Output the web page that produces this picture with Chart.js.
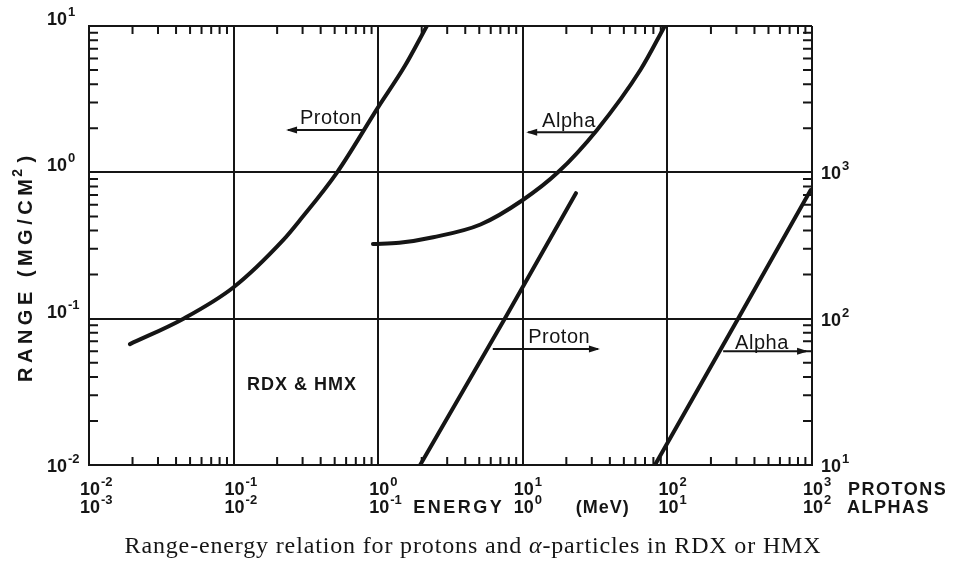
<!DOCTYPE html>
<html>
<head>
<meta charset="utf-8">
<script src="https://cdn.jsdelivr.net/npm/chart.js@4.4.1/dist/chart.umd.min.js"></script>
<style>
  html, body { margin: 0; padding: 0; background: #fff; }
  #wrap { width: 958px; height: 564px; }
</style>
</head>
<body>
<div id="wrap"><canvas id="rangeChart" width="958" height="564"></canvas></div>
<script>
// decade ticks (MeV for the two energy rows, mg/cm2 for the two range axes)
const protonTicks = [0.01, 0.1, 1, 10, 100, 1000];
const alphaTicks = [0.001, 0.01, 0.1, 1, 10, 100];
const rangeTicks = [0.01, 0.1, 1, 10];
const rightRangeTicks = [10, 100, 1000, 10000];

// proton curve, read on the left range axis
const protonLowEnergy = [0.0192, 0.045, 0.1, 0.22, 0.288, 0.52, 1.0, 1.52, 2.17];
const protonLowRange = [0.067, 0.1, 0.164, 0.344, 0.472, 1.0, 2.79, 5.28, 10];

// alpha curve, read on the left range axis (alpha energies)
const alphaLowEnergy = [0.092, 0.14, 0.24, 0.51, 1.0, 1.75, 3.26, 6.5, 9.6];
const alphaLowRange = [0.324, 0.33, 0.36, 0.44, 0.647, 1.0, 1.95, 5.0, 10];

// proton curve, read on the right range axis
const protonHighEnergy = [1.95, 7.5, 23.3];
const protonHighRange = [10, 100, 720];

// alpha curve, read on the right range axis (alpha energies)
const alphaHighEnergy = [8.2, 30.8, 98];
const alphaHighRange = [10, 100, 757];

const INK = '#151515';
const SANS = '"Liberation Sans", Arial, Helvetica, sans-serif';
const SERIF = '"Liberation Serif", "Times New Roman", serif';

function pairUp(xs, ys) {
  return xs.map((v, i) => ({ x: v, y: ys[i] }));
}

function drawPower(ctx, exp, x, baseline) {
  ctx.font = 'bold 18px ' + SANS;
  ctx.textAlign = 'left';
  ctx.textBaseline = 'alphabetic';
  ctx.fillText('10', x, baseline);
  const w = ctx.measureText('10').width;
  ctx.font = 'bold 13px ' + SANS;
  ctx.fillText(String(exp), x + w + 1, baseline - 9);
}

function drawArrow(ctx, x0, x1, yy) {
  ctx.beginPath();
  ctx.moveTo(x0, yy);
  ctx.lineTo(x1, yy);
  ctx.stroke();
  const dir = x1 > x0 ? 1 : -1;
  ctx.beginPath();
  ctx.moveTo(x1 + dir * 2, yy);
  ctx.lineTo(x1 - dir * 9, yy - 3.5);
  ctx.lineTo(x1 - dir * 9, yy + 3.5);
  ctx.closePath();
  ctx.fill();
}

const paperPlugin = {
  id: 'paper',
  afterDraw(chart) {
    const ctx = chart.ctx;
    const { left, right, top, bottom } = chart.chartArea;
    const sx = chart.scales.x, sx2 = chart.scales.x2;
    const sy = chart.scales.y, sy2 = chart.scales.y2;
    ctx.save();
    ctx.strokeStyle = INK;
    ctx.fillStyle = INK;
    ctx.lineWidth = 2;

    // minor log ticks on all four sides, pointing inwards
    ctx.beginPath();
    protonTicks.slice(0, -1).forEach(d => {
      for (let k = 2; k <= 9; k++) {
        const px = sx.getPixelForValue(k * d);
        ctx.moveTo(px, bottom); ctx.lineTo(px, bottom - 8);
        ctx.moveTo(px, top); ctx.lineTo(px, top + 8);
      }
    });
    rangeTicks.slice(0, -1).forEach(d => {
      for (let k = 2; k <= 9; k++) {
        const py = sy.getPixelForValue(k * d);
        ctx.moveTo(left, py); ctx.lineTo(left + 9, py);
        ctx.moveTo(right, py); ctx.lineTo(right - 9, py);
      }
    });
    ctx.stroke();

    // left range labels
    rangeTicks.forEach(v => {
      const py = sy.getPixelForValue(v);
      const base = v === rangeTicks[0] ? py + 7 : py - 1;
      drawPower(ctx, Math.round(Math.log10(v)), left - 42, base);
    });
    // right range labels
    rightRangeTicks.slice(0, -1).forEach(v => {
      drawPower(ctx, Math.round(Math.log10(v)), right + 9, sy2.getPixelForValue(v) + 7);
    });
    // energy labels, protons on top row, alphas below
    const row1 = bottom + 30, row2 = bottom + 48;
    protonTicks.forEach(v => {
      drawPower(ctx, Math.round(Math.log10(v)), sx.getPixelForValue(v) - 9, row1);
    });
    alphaTicks.forEach(v => {
      drawPower(ctx, Math.round(Math.log10(v)), sx2.getPixelForValue(v) - 9, row2);
    });
    ctx.font = 'bold 18px ' + SANS;
    ctx.letterSpacing = '1.5px';
    ctx.fillText('PROTONS', right + 36, row1);
    ctx.fillText('ALPHAS', right + 35, row2);
    ctx.letterSpacing = '2.5px';
    ctx.fillText('ENERGY', sx.getPixelForValue(1) + 35, row2);
    ctx.letterSpacing = '1px';
    ctx.fillText('(MeV)', sx.getPixelForValue(10) + 53, row2);

    // vertical axis title
    ctx.save();
    ctx.translate(32, 382);
    ctx.rotate(-Math.PI / 2);
    ctx.font = 'bold 20px ' + SANS;
    ctx.letterSpacing = '4.5px';
    ctx.fillText('RANGE (MG/CM', 0, 0);
    let w = ctx.measureText('RANGE (MG/CM').width;
    ctx.font = 'bold 14px ' + SANS;
    ctx.fillText('2', w - 2, -10);
    w += ctx.measureText('2').width;
    ctx.font = 'bold 20px ' + SANS;
    ctx.fillText(')', w, 0);
    ctx.restore();

    // curve labels with their arrows
    ctx.font = '20px ' + SANS;
    ctx.letterSpacing = '0.5px';
    ctx.fillText('Proton', sx.getPixelForValue(0.288), sy.getPixelForValue(2.14));
    drawArrow(ctx, sx.getPixelForValue(0.785), sx.getPixelForValue(0.238), sy.getPixelForValue(1.95));
    ctx.fillText('Alpha', sx.getPixelForValue(13.6), sy.getPixelForValue(2.04));
    drawArrow(ctx, sx.getPixelForValue(32.1), sx.getPixelForValue(10.9), sy.getPixelForValue(1.88));
    ctx.fillText('Proton', sx.getPixelForValue(10.9), sy.getPixelForValue(0.068));
    drawArrow(ctx, sx.getPixelForValue(6.2), sx.getPixelForValue(33.1), sy.getPixelForValue(0.062));
    ctx.fillText('Alpha', sx.getPixelForValue(294), sy.getPixelForValue(0.062));
    drawArrow(ctx, sx.getPixelForValue(243), sx.getPixelForValue(910), sy.getPixelForValue(0.060));
    ctx.font = 'bold 18px ' + SANS;
    ctx.letterSpacing = '1px';
    ctx.fillText('RDX & HMX', sx.getPixelForValue(0.124), sy.getPixelForValue(0.0325));

    // caption
    const capFont = '24px ' + SERIF;
    ctx.letterSpacing = '0.85px';
    ctx.font = capFont;
    const partA = 'Range-energy relation for protons and ';
    const partB = '\u03B1';
    const partC = '-particles in RDX or HMX';
    const wA = ctx.measureText(partA).width;
    const wC = ctx.measureText(partC).width;
    ctx.font = 'italic ' + capFont;
    const wB = ctx.measureText(partB).width;
    let cx = 473 - (wA + wB + wC) / 2;
    ctx.font = capFont;
    ctx.fillText(partA, cx, 553);
    cx += wA;
    ctx.font = 'italic ' + capFont;
    ctx.fillText(partB, cx, 553);
    cx += wB;
    ctx.font = capFont;
    ctx.fillText(partC, cx, 553);
    ctx.restore();
  }
};

const gridStyle = { color: INK, lineWidth: 2, drawTicks: false };
const borderStyle = { display: true, color: INK, width: 2 };

new Chart(document.getElementById('rangeChart'), {
  type: 'scatter',
  data: {
    datasets: [
      { label: 'Proton', data: pairUp(protonLowEnergy, protonLowRange), xAxisID: 'x', yAxisID: 'y', cubicInterpolationMode: 'monotone' },
      { label: 'Alpha', data: pairUp(alphaLowEnergy, alphaLowRange), xAxisID: 'x2', yAxisID: 'y', cubicInterpolationMode: 'monotone' },
      { label: 'Proton', data: pairUp(protonHighEnergy, protonHighRange), xAxisID: 'x', yAxisID: 'y2' },
      { label: 'Alpha', data: pairUp(alphaHighEnergy, alphaHighRange), xAxisID: 'x2', yAxisID: 'y2' }
    ]
  },
  options: {
    responsive: false,
    animation: false,
    showLine: true,
    layout: { padding: { left: 89, right: 146, top: 26, bottom: 99 } },
    elements: {
      point: { radius: 0 },
      line: { borderWidth: 4, borderColor: INK, borderCapStyle: 'round' }
    },
    plugins: { legend: { display: false }, tooltip: { enabled: false } },
    scales: {
      x: {
        type: 'logarithmic', position: 'bottom',
        min: protonTicks[0], max: protonTicks[protonTicks.length - 1],
        afterBuildTicks: s => { s.ticks = protonTicks.map(v => ({ value: v })); },
        ticks: { display: false }, grid: gridStyle, border: borderStyle
      },
      x2: {
        type: 'logarithmic', position: 'bottom', display: false,
        min: alphaTicks[0], max: alphaTicks[alphaTicks.length - 1]
      },
      y: {
        type: 'logarithmic', position: 'left',
        min: rangeTicks[0], max: rangeTicks[rangeTicks.length - 1],
        afterBuildTicks: s => { s.ticks = rangeTicks.map(v => ({ value: v })); },
        ticks: { display: false }, grid: gridStyle, border: borderStyle
      },
      y2: {
        type: 'logarithmic', position: 'right', display: false,
        min: rightRangeTicks[0], max: rightRangeTicks[rightRangeTicks.length - 1]
      }
    }
  },
  plugins: [paperPlugin]
});
</script>
</body>
</html>
